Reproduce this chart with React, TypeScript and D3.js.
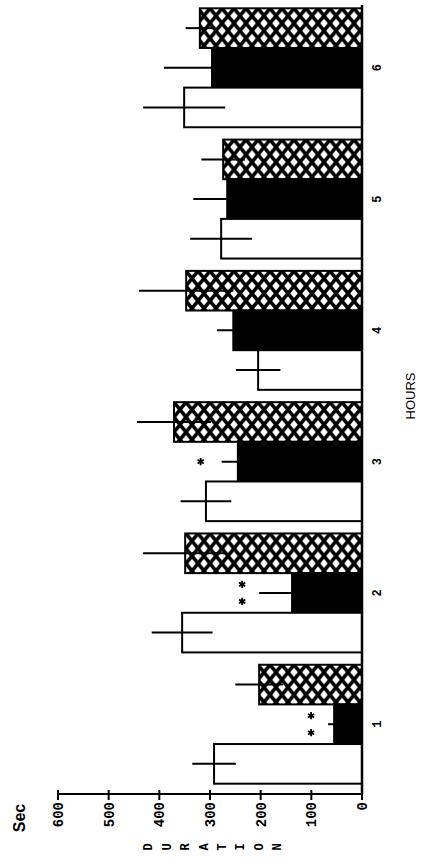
import React, { useEffect, useRef } from 'react';
import * as d3 from 'd3';

// values (seconds)
const hours = ['1', '2', '3', '4', '5', '6'];
const groups = ['hatched', 'solid', 'open'];
const openMeans = [292, 355, 308, 205, 278, 351];
const openErrs = [43, 60, 50, 44, 61, 81];
const solidMeans = [55, 138, 245, 254, 266, 296];
const solidErrs = [12, 65, 32, 32, 67, 95];
const hatchedMeans = [203, 349, 371, 347, 274, 320];
const hatchedErrs = [47, 83, 73, 93, 43, 28];
const solidSig = [2, 2, 1, 0, 0, 0];
const tickValues = [0, 100, 200, 300, 400, 500, 600];
const yTitle = 'DURATION';

const App = () => {
  const ref = useRef<SVGSVGElement>(null);

  useEffect(() => {
    const svg = d3.select(ref.current);
    svg.selectAll('*').remove();

    const x = d3.scaleLinear().domain([0, 600]).range([362, 58]);
    const y = d3.scaleBand()
      .domain(hours.slice().reverse())
      .range([2, 790])
      .paddingInner(0.094)
      .paddingOuter(0.048);
    const sub = d3.scaleBand().domain(groups).range([0, y.bandwidth()]);

    const defs = svg.append('defs');
    const pat = defs.append('pattern')
      .attr('id', 'hatch')
      .attr('patternUnits', 'userSpaceOnUse')
      .attr('width', 12)
      .attr('height', 15);
    pat.append('rect').attr('width', 12).attr('height', 15).attr('fill', '#000');
    const diamond = (cx, cy) =>
      `M${cx - 3.8},${cy}L${cx},${cy - 4.4}L${cx + 3.8},${cy}L${cx},${cy + 4.4}Z`;
    pat.append('path')
      .attr('d', diamond(0, 0) + diamond(12, 0) + diamond(6, 7.5) + diamond(0, 15) + diamond(12, 15))
      .attr('fill', '#fff');

    const rows = hours.map((h, i) => ({
      hour: h,
      bars: [
        { key: 'hatched', v: hatchedMeans[i], e: hatchedErrs[i] },
        { key: 'solid', v: solidMeans[i], e: solidErrs[i] },
        { key: 'open', v: openMeans[i], e: openErrs[i] }
      ],
      sig: solidSig[i]
    }));

    const fills = { hatched: 'url(#hatch)', solid: '#000', open: '#fff' };

    const g = svg.append('g');
    const grp = g.selectAll('.grp')
      .data(rows)
      .enter().append('g')
        .attr('class', 'grp')
        .attr('transform', d => 'translate(0,' + y(d.hour) + ')');

    const bar = grp.selectAll('.bar')
      .data(d => d.bars)
      .enter().append('g')
        .attr('class', 'bar');

    bar.append('rect')
      .attr('x', d => x(d.v))
      .attr('y', d => sub(d.key))
      .attr('width', d => x(0) - x(d.v))
      .attr('height', sub.bandwidth())
      .attr('fill', d => fills[d.key])
      .attr('stroke', '#000')
      .attr('stroke-width', 2);

    // error bars
    bar.append('line')
      .attr('x1', d => x(d.v + d.e))
      .attr('x2', d => x(Math.max(0, d.v - d.e)))
      .attr('y1', d => sub(d.key) + sub.bandwidth() / 2)
      .attr('y2', d => sub(d.key) + sub.bandwidth() / 2)
      .attr('stroke', '#000')
      .attr('stroke-width', 2);

    // significance asterisks
    const star = (cx, cy) => {
      const r = 3.6;
      let p = '';
      for (let k = 0; k < 3; k++) {
        const a = Math.PI / 2 + k * Math.PI / 3;
        p += `M${cx - r * Math.cos(a)},${cy - r * Math.sin(a)}L${cx + r * Math.cos(a)},${cy + r * Math.sin(a)}`;
      }
      return p;
    };
    grp.filter(d => d.sig > 0).append('path')
      .attr('d', d => {
        const cx = x(d.bars[1].v + d.bars[1].e) - 17;
        const cy = sub('solid') + sub.bandwidth() / 2;
        if (d.sig === 1) return star(cx - 4, cy);
        return star(cx, cy - 8.5) + star(cx, cy + 8.5);
      })
      .attr('stroke', '#000')
      .attr('stroke-width', 1.8)
      .attr('fill', 'none');

    // baseline
    g.append('line')
      .attr('x1', x(0)).attr('x2', x(0))
      .attr('y1', 5).attr('y2', 794)
      .attr('stroke', '#000').attr('stroke-width', 2.5);

    // value axis
    g.append('line')
      .attr('x1', x(600)).attr('x2', x(0))
      .attr('y1', 794).attr('y2', 794)
      .attr('stroke', '#000').attr('stroke-width', 2);

    const tick = g.selectAll('.tick')
      .data(tickValues)
      .enter().append('g')
        .attr('class', 'tick')
        .attr('transform', d => 'translate(' + x(d) + ',0)');
    tick.append('line')
      .attr('y1', 790).attr('y2', 800)
      .attr('stroke', '#000').attr('stroke-width', 2);
    tick.append('text')
      .attr('transform', 'translate(0,802) rotate(-90)')
      .attr('text-anchor', 'end')
      .attr('dy', '0.36em')
      .style('font', 'bold 14px "Liberation Mono", monospace')
      .text(d => d);

    // hour labels
    g.selectAll('.hour')
      .data(hours)
      .enter().append('text')
        .attr('class', 'hour')
        .attr('transform', d => 'translate(377,' + (y(d) + sub('solid') + sub.bandwidth() / 2) + ') rotate(-90)')
        .attr('text-anchor', 'middle')
        .attr('dy', '0.36em')
        .style('font', 'bold 12px "Liberation Mono", monospace')
        .text(d => d);

    g.append('text')
      .attr('transform', 'translate(410,' + (y('3') + y('4') + y.bandwidth()) / 2 + ') rotate(-90)')
      .attr('text-anchor', 'middle')
      .attr('dy', '0.36em')
      .style('font', '13px "Liberation Sans", sans-serif')
      .text('HOURS');

    g.append('text')
      .attr('transform', 'translate(19,818) rotate(-90)')
      .attr('text-anchor', 'middle')
      .attr('dy', '0.36em')
      .style('font', 'bold 16px "Liberation Sans", sans-serif')
      .text('Sec');

    const letters = yTitle.split('');
    const lx = d3.scalePoint().domain(d3.range(letters.length)).range([148, 277]);
    g.selectAll('.ttl')
      .data(letters)
      .enter().append('text')
        .attr('class', 'ttl')
        .attr('transform', (d, i) => 'translate(' + lx(i) + ',847) rotate(-90)')
        .attr('text-anchor', 'middle')
        .attr('dy', '0.36em')
        .style('font', 'bold 12px "Liberation Mono", monospace')
        .text(d => d);
  }, []);

  return (
    <svg
      ref={ref}
      width="422"
      height="863"
      style={{ position: 'absolute', left: 0, top: 0, background: '#fff' }}
    />
  );
};

export default App;
